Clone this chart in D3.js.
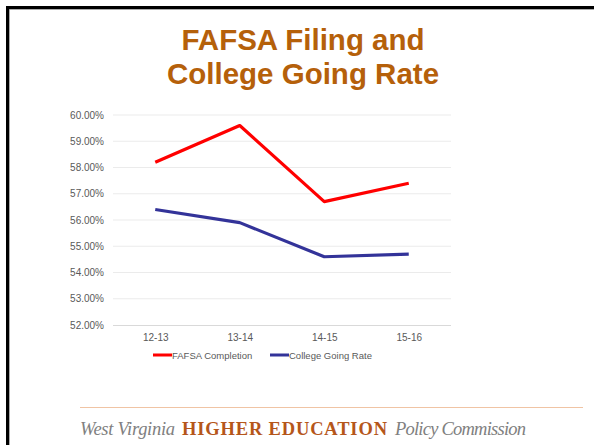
<!DOCTYPE html>
<html>
<head>
<meta charset="utf-8">
<script src="https://cdn.jsdelivr.net/npm/d3@7"></script>
<style>
  body { margin: 0; background: #fff; }
  svg { display: block; }
</style>
</head>
<body>
<svg id="chart" width="594" height="445"></svg>
<script>
// data
const years = ["12-13", "13-14", "14-15", "15-16"];
const fafsa = [58.2, 59.6, 56.7, 57.4];
const going = [56.4, 55.9, 54.6, 54.7];
const yTicks = [52, 53, 54, 55, 56, 57, 58, 59, 60];
const seriesNames = ["FAFSA Completion", "College Going Rate"];
const seriesColors = ["#ff0000", "#333399"];

const svg = d3.select("#chart");

// slide border (top + left, rest is cropped away)
svg.append("rect")
  .attr("x", 7.5).attr("y", 7.5)
  .attr("width", 620).attr("height", 470)
  .attr("fill", "none").attr("stroke", "#000").attr("stroke-width", 3);
svg.append("rect")
  .attr("x", 9.5).attr("y", 9.5)
  .attr("width", 620).attr("height", 470)
  .attr("fill", "none").attr("stroke", "#888").attr("stroke-width", 0.7);

// title
const title = svg.append("text")
  .attr("text-anchor", "middle")
  .style("font-family", "Liberation Sans, Arial, sans-serif")
  .style("font-weight", "bold")
  .style("font-size", "29.5px")
  .style("fill", "#b5600a");
title.append("tspan").attr("x", 303).attr("y", 50).text("FAFSA Filing and");
title.append("tspan").attr("x", 303).attr("y", 84).text("College Going Rate");

// chart area
const plotL = 113, plotR = 451, plotT = 115, plotB = 325;

const x = d3.scalePoint().domain(years).range([plotL, plotR]).padding(0.5);
const y = d3.scaleLinear().domain([52, 60]).range([plotB, plotT]);

const g = svg.append("g");

g.selectAll(".grid")
  .data(yTicks.slice(1))
  .enter()
  .append("line")
  .attr("x1", plotL).attr("x2", plotR)
  .attr("y1", d => y(d)).attr("y2", d => y(d))
  .style("stroke", "#ebebeb").style("stroke-width", 1);

// y axis labels
const yAxis = d3.axisLeft(y).tickValues(yTicks).tickSize(0).tickPadding(9)
  .tickFormat(d => d.toFixed(2) + "%");
const ya = g.append("g").attr("transform", `translate(${plotL},0)`).call(yAxis);
ya.select(".domain").remove();
ya.selectAll("text")
  .style("font-family", "Liberation Sans, Arial, sans-serif")
  .style("font-size", "10px").style("fill", "#595959");

// x axis
const xAxis = d3.axisBottom(x).tickSize(0).tickPadding(9);
const xa = g.append("g").attr("transform", `translate(0,${plotB})`).call(xAxis);
xa.select(".domain").attr("d", `M${plotL},0.5H${plotR}`).style("stroke", "#d9d9d9");
xa.selectAll("text")
  .style("font-family", "Liberation Sans, Arial, sans-serif")
  .style("font-size", "10px").style("fill", "#595959");

// lines
const line = d3.line().x((d, i) => x(years[i])).y(d => y(d));
[fafsa, going].forEach((s, k) => {
  g.append("path")
    .datum(s)
    .attr("d", line)
    .attr("fill", "none")
    .style("stroke", seriesColors[k])
    .style("stroke-width", 3.2)
    .style("stroke-linejoin", "round");
});

// legend
const legX = [153, 270];
seriesNames.forEach((name, k) => {
  g.append("line")
    .attr("x1", legX[k]).attr("x2", legX[k] + 19)
    .attr("y1", 355).attr("y2", 355)
    .style("stroke", seriesColors[k]).style("stroke-width", 3);
  g.append("text")
    .attr("x", legX[k] + 19).attr("y", 358.5)
    .text(name)
    .style("font-family", "Liberation Sans, Arial, sans-serif")
    .style("font-size", "9.5px").style("fill", "#595959");
});

// footer
svg.append("line")
  .attr("x1", 80).attr("x2", 583).attr("y1", 407.5).attr("y2", 407.5)
  .style("stroke", "#f0c4a4").style("stroke-width", 1);

const footParts = [
  { t: "West Virginia", x0: 80, x1: 175, italic: true, bold: false, c: "#808080" },
  { t: "HIGHER EDUCATION", x0: 182, x1: 387, italic: false, bold: true, c: "#b5561a" },
  { t: "Policy Commission", x0: 395, x1: 526, italic: true, bold: false, c: "#808080" }
];
footParts.forEach(p => {
  svg.append("text")
    .attr("x", p.x0).attr("y", 435)
    .attr("textLength", p.x1 - p.x0)
    .attr("lengthAdjust", "spacing")
    .text(p.t)
    .style("font-family", "Liberation Serif, Times New Roman, serif")
    .style("font-size", "18.5px")
    .style("font-style", p.italic ? "italic" : "normal")
    .style("font-weight", p.bold ? "bold" : "normal")
    .style("fill", p.c);
});
</script>
</body>
</html>
